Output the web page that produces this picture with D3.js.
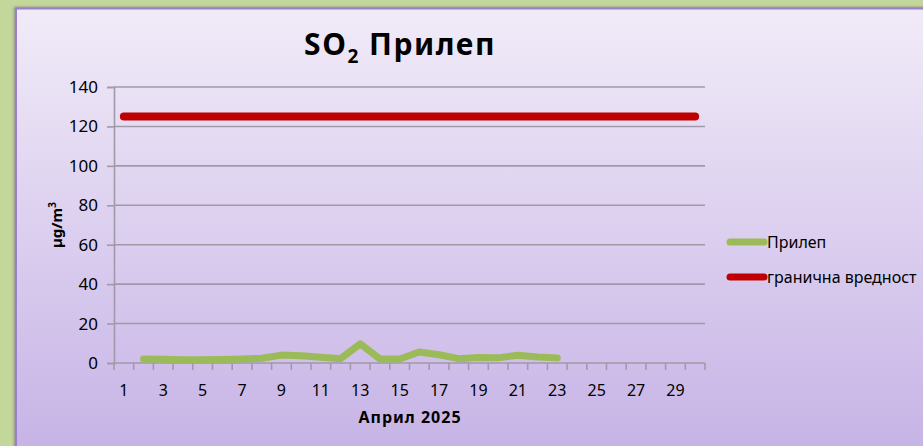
<!DOCTYPE html>
<html>
<head>
<meta charset="utf-8">
<script src="https://cdn.jsdelivr.net/npm/d3@7"></script>
<style>
  html, body { margin: 0; padding: 0; background: #c4d79b; }
  svg { display: block; }
  text { font-family: "Comic Sans MS", "Noto Sans", sans-serif; fill: #000; }
</style>
</head>
<body>
<svg id="chart" width="923" height="446"></svg>
<script>
// Days of April 2025
const days = d3.range(1, 31);
// Daily SO2 concentration at Прилеп (µg/m³), days 2–23
const prilepDays = [2, 3, 4, 5, 6, 7, 8, 9, 10, 11, 12, 13, 14, 15, 16, 17, 18, 19, 20, 21, 22, 23];
const prilepValues = [2.0, 1.9, 1.7, 1.7, 1.8, 2.0, 2.4, 4.0, 3.7, 2.9, 2.2, 9.7, 2.0, 2.0, 5.6, 4.2, 2.2, 2.8, 2.6, 3.9, 3.0, 2.6];
// Limit value line
const limitValue = 125;
const yTicks = [0, 20, 40, 60, 80, 100, 120, 140];
const xTickLabels = days.filter(d => d % 2 === 1);
const seriesNames = ["Прилеп", "гранична вредност"];
const seriesColors = ["#9bbb59", "#c00000"];

const svg = d3.select("#chart");
const W = 923, H = 446;

// Chart panel with lavender gradient
const defs = svg.append("defs");
const grad = defs.append("linearGradient").attr("id", "bg").attr("x1", 0).attr("y1", 0).attr("x2", 0).attr("y2", 1);
grad.append("stop").attr("offset", "0%").attr("stop-color", "#f1ebf8");
grad.append("stop").attr("offset", "100%").attr("stop-color", "#c6b3e6");
const shadow = defs.append("filter").attr("id", "sh").attr("x", "-5%").attr("y", "-5%").attr("width", "110%").attr("height", "110%");
shadow.append("feGaussianBlur").attr("stdDeviation", 1.5);

svg.append("rect").attr("x", 14).attr("y", 7).attr("width", W).attr("height", H)
  .attr("fill", "#6f5a8f").attr("opacity", 0.6).attr("filter", "url(#sh)");
svg.append("rect").attr("x", 16).attr("y", 8.5).attr("width", W).attr("height", H)
  .attr("fill", "url(#bg)").attr("stroke", "#9a7fcb").attr("stroke-width", 2);

// Plot area
const plot = { left: 114, right: 705, top: 87, bottom: 363 };
const x = d3.scaleBand().domain(days).range([plot.left, plot.right]).padding(0);
const y = d3.scaleLinear().domain([0, 140]).range([plot.bottom, plot.top]);
const cx = d => x(d) + x.bandwidth() / 2;

// Horizontal gridlines
svg.append("g").selectAll("line").data(yTicks.filter(v => v > 0)).join("line")
  .attr("x1", plot.left).attr("x2", plot.right)
  .attr("y1", d => y(d)).attr("y2", d => y(d))
  .attr("stroke", "#a09aa8").attr("stroke-width", 1.6);

// Y axis
const yAxis = svg.append("g").attr("transform", `translate(${plot.left},0)`)
  .call(d3.axisLeft(y).tickValues(yTicks).tickSize(7).tickPadding(9));
yAxis.select(".domain").attr("stroke", "#a09aa8").attr("stroke-width", 1.6);
yAxis.selectAll(".tick line").attr("stroke", "#a09aa8").attr("stroke-width", 1.6);
yAxis.selectAll(".tick text").style("font-size", "17px").style("font-family", "\"Comic Sans MS\", \"Noto Sans\", sans-serif");

// X axis: category ticks at day boundaries
const xAxisG = svg.append("g").attr("transform", `translate(0,${plot.bottom})`);
xAxisG.append("line").attr("x1", plot.left).attr("x2", plot.right).attr("y1", 0).attr("y2", 0)
  .attr("stroke", "#a09aa8").attr("stroke-width", 1.6);
const boundaries = days.map(d => x(d)).concat([plot.right]);
xAxisG.selectAll("line.tk").data(boundaries).join("line").attr("class", "tk")
  .attr("x1", d => d).attr("x2", d => d).attr("y1", 0).attr("y2", 7)
  .attr("stroke", "#a09aa8").attr("stroke-width", 1.6);
xAxisG.selectAll("text").data(xTickLabels).join("text")
  .attr("x", d => cx(d)).attr("y", 33).attr("text-anchor", "middle")
  .style("font-size", "16px").text(d => d);

// Limit line
svg.append("line")
  .attr("x1", cx(days[0])).attr("x2", cx(days[days.length - 1]))
  .attr("y1", y(limitValue)).attr("y2", y(limitValue))
  .attr("stroke", seriesColors[1]).attr("stroke-width", 8).attr("stroke-linecap", "round");

// Прилеп series
const line = d3.line().x((d, i) => cx(prilepDays[i])).y(d => y(d));
svg.append("path").datum(prilepValues).attr("d", line)
  .attr("fill", "none").attr("stroke", seriesColors[0]).attr("stroke-width", 7)
  .attr("stroke-linecap", "round").attr("stroke-linejoin", "round");

// Title
const title = svg.append("text").attr("x", 400).attr("y", 55).attr("text-anchor", "middle")
  .style("font-size", "30px").style("font-weight", "bold").style("letter-spacing", "1.5px");
title.append("tspan").text("SO");
title.append("tspan").attr("dy", 8).style("font-size", "19px").text("2");
title.append("tspan").attr("dy", -8).text(" Прилеп");

// Axis titles
svg.append("text").attr("x", 410).attr("y", 423).attr("text-anchor", "middle")
  .style("font-size", "16px").style("font-weight", "bold").style("letter-spacing", "1px").text("Април 2025");
const yt = svg.append("text").attr("transform", "translate(62,225) rotate(-90)")
  .attr("text-anchor", "middle").style("font-size", "15px").style("font-weight", "bold");
yt.append("tspan").text("µg/m");
yt.append("tspan").attr("dy", -6).style("font-size", "10px").text("3");

// Legend
const legend = svg.append("g").attr("transform", "translate(730,242)");
seriesNames.forEach((name, i) => {
  const g = legend.append("g").attr("transform", `translate(0,${i * 35})`);
  g.append("line").attr("x1", 0).attr("x2", 34).attr("y1", 0).attr("y2", 0)
    .attr("stroke", seriesColors[i]).attr("stroke-width", 7).attr("stroke-linecap", "round");
  g.append("text").attr("x", 37).attr("y", 5.5).style("font-size", "16px").text(name);
});
</script>
</body>
</html>
